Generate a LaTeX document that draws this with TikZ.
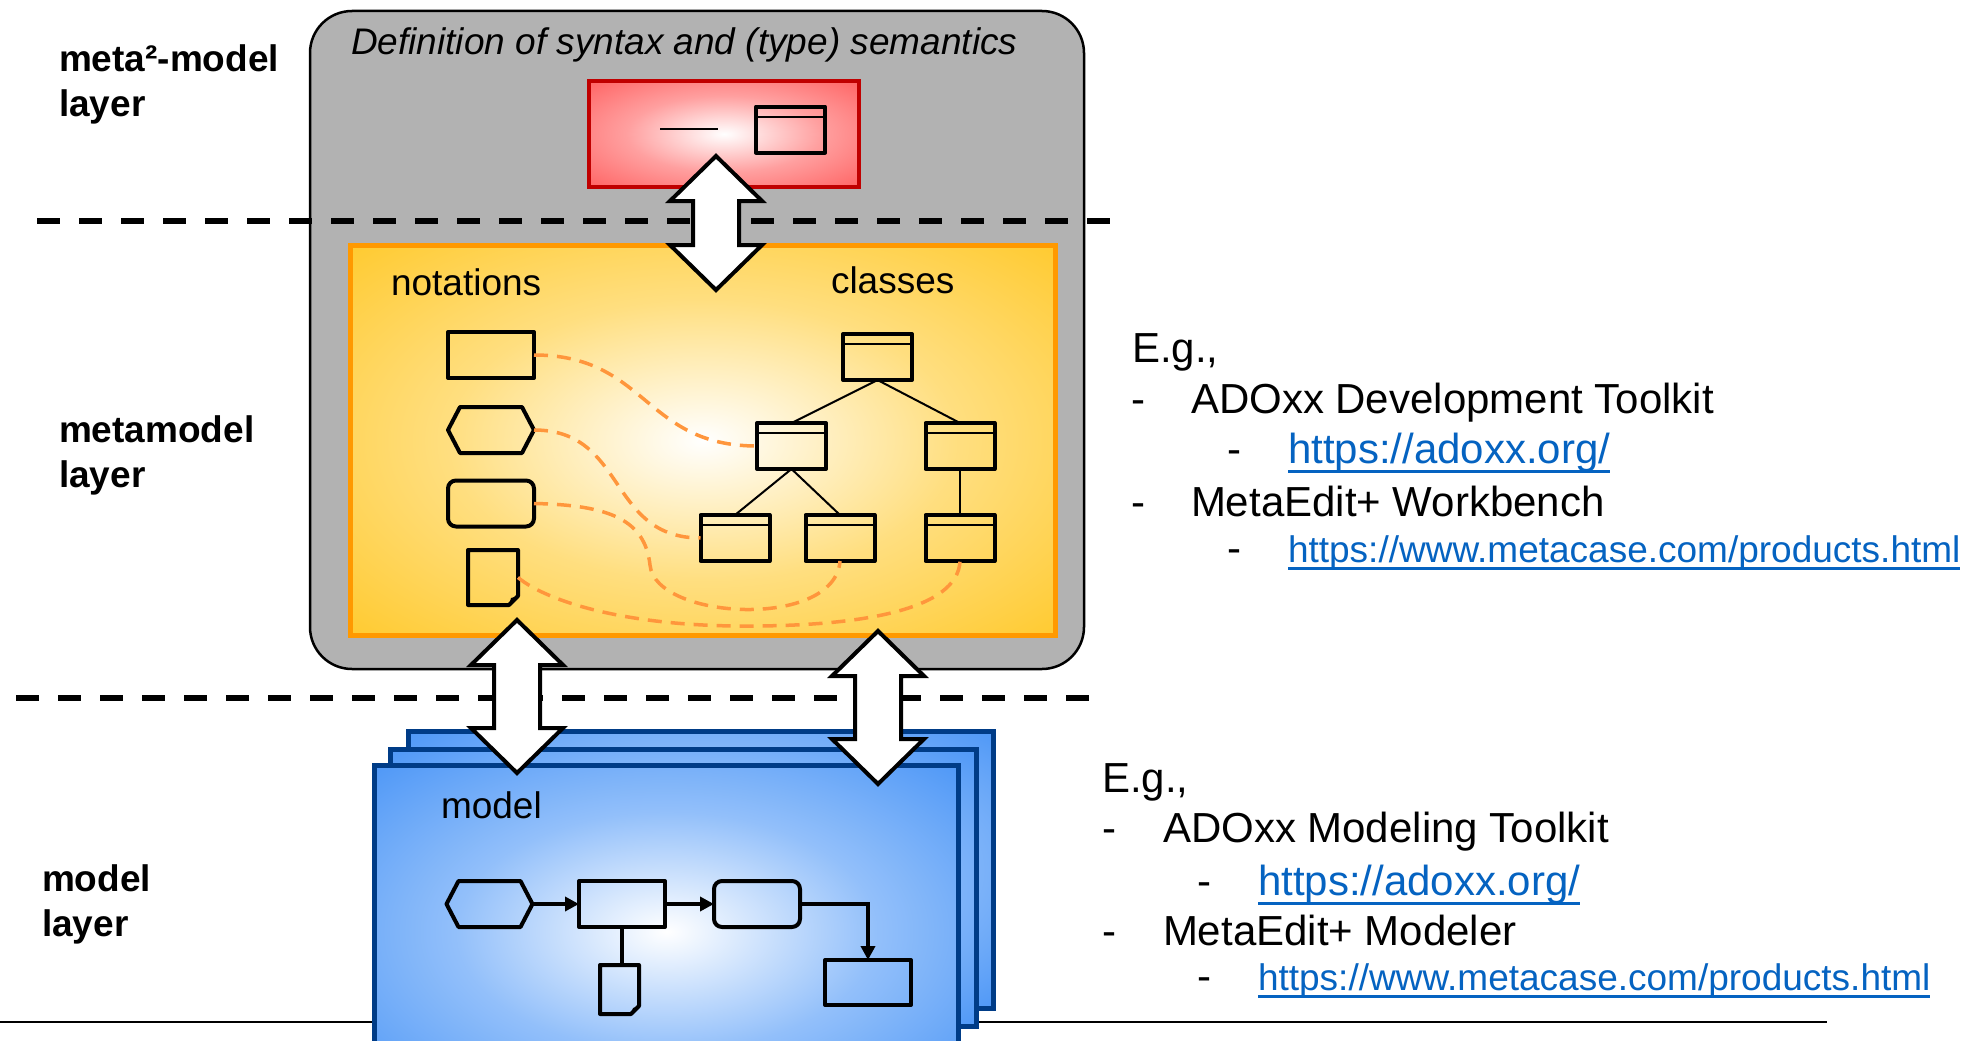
\documentclass[tikz,border=0pt]{standalone}
\usepackage{fontspec}
\setmainfont{Liberation Sans}
\usetikzlibrary{calc,arrows.meta}
\definecolor{grayfill}{RGB}{178,178,178}
\definecolor{redouter}{RGB}{255,64,64}
\definecolor{redborder}{RGB}{192,0,0}
\definecolor{orangeouter}{RGB}{255,190,0}
\definecolor{orangeborder}{RGB}{255,153,0}
\definecolor{blueouter}{RGB}{38,128,245}
\definecolor{blueborder}{RGB}{0,60,135}
\definecolor{dashorange}{RGB}{255,150,60}
\definecolor{linkblue}{RGB}{5,99,193}
\pgfdeclareradialshading{redrad}{\pgfpoint{0bp}{0bp}}{color(0bp)=(white); color(18bp)=(redouter!50!white); color(46bp)=(redouter); color(100bp)=(redouter)}
\pgfdeclareradialshading{orangerad}{\pgfpoint{0bp}{0bp}}{color(0bp)=(white); color(18bp)=(orangeouter!50!white); color(46bp)=(orangeouter); color(100bp)=(orangeouter)}
\pgfdeclareradialshading{bluerad}{\pgfpoint{0bp}{0bp}}{color(0bp)=(white); color(18bp)=(blueouter!50!white); color(46bp)=(blueouter); color(100bp)=(blueouter)}
\newsavebox{\ulbx}
\newcommand{\linkul}[3]{\sbox{\ulbx}{#3}\rlap{\rule[-#1]{\wd\ulbx}{#2}}\usebox{\ulbx}}
\newcommand{\dblarrow}[4]{%
  \coordinate (#1) at (#2,{(#3+#4)/2});
  \draw[dblarr] (#2,#3) -- ({#2+46},{#3+45}) -- ({#2+23},{#3+45}) -- ({#2+23},{#4-45}) -- ({#2+46},{#4-45}) -- (#2,#4) -- ({#2-46},{#4-45}) -- ({#2-23},{#4-45}) -- ({#2-23},{#3+45}) -- ({#2-46},{#3+45}) -- cycle;
}
\tikzset{
  lbl/.style={anchor=base west, inner sep=0pt, outer sep=0pt},
  layerlbl/.style={lbl, font=\bfseries\fontsize{37pt}{44pt}\selectfont},
  txtA/.style={lbl, font=\fontsize{37pt}{44pt}\selectfont},
  txtB/.style={lbl, font=\fontsize{42pt}{50pt}\selectfont},
  linkB/.style={txtB, text=linkblue},
  linkA/.style={txtA, text=linkblue},
  layerdash/.style={line width=6pt, dash pattern=on 23pt off 19pt},
  dblarr/.style={draw=black, fill=white, line width=4pt, line join=miter},
  shp/.style={draw=black, line width=4pt, line join=round},
  ghost/.style={minimum width=86pt, minimum height=46pt},
  nbox/.style={shp, minimum width=86pt, minimum height=46pt},
  cls/.style={shp, minimum width=69pt, minimum height=46pt},
  hdr/.style={line width=2pt},
  tree/.style={line width=2pt},
  odash/.style={draw=dashorange, line width=3.5pt, dash pattern=on 14pt off 9pt},
  bluebox/.style={draw=blueborder, line width=5pt, shade, shading=bluerad},
  mconn/.style={line width=4pt, -{Triangle[length=14pt,width=14pt]}},
}
\begin{document}
\begin{tikzpicture}[x=1pt,y=-1pt, every node/.style={inner sep=0pt,outer sep=0pt}]
\useasboundingbox (0,0) rectangle (1974,1041);
\clip (0,0) rectangle (1974,1041);
\fill[white] (0,0) rectangle (1974,1041);

% layer labels
\node[layerlbl] (l1) at (59,72) {meta²-model};
\node[layerlbl] (l2) at (59,116) {layer};
\node[layerlbl] (l3) at (59,442) {metamodel};
\node[layerlbl] (l4) at (59,487) {layer};
\node[layerlbl] (l5) at (42,891) {model};
\node[layerlbl] (l6) at (42,936) {layer};

% meta2-model container
\node[draw=black, line width=2.5pt, fill=grayfill, rounded corners=42pt, minimum width=774pt, minimum height=658pt] (gray) at (697,340) {};
\node[txtA, font=\itshape\fontsize{37pt}{44pt}\selectfont] (deftxt) at (351,55) {Definition of syntax and (type) semantics};

% dashed layer line 1
\coordinate (d1a) at (37,221);
\coordinate (d1b) at (1110,221);
\draw[layerdash] (d1a) -- (d1b);

% red meta2 box
\node[draw=redborder, line width=4pt, shade, shading=redrad, minimum width=270pt, minimum height=106pt] (red) at (724,134) {};
\coordinate (rl1) at (660,129);
\coordinate (rl2) at (718,129);
\draw[line width=2pt] (rl1) -- (rl2);
\node[cls] (rc) at (790.5,129.5) {};
\draw[hdr] ($(rc.north west)+(0,10)$) -- ($(rc.north east)+(0,10)$);

% orange metamodel box
\node[draw=orangeborder, line width=5pt, shade, shading=orangerad, minimum width=705pt, minimum height=390pt] (orange) at (703,440.5) {};
\node[txtA] (notl) at (391,295) {notations};
\node[txtA] (clsl) at (831,293) {classes};

% notation shapes
\node[nbox] (n1) at (491,355) {};
\node[ghost] (n2) at (491,430) {};
\draw[shp] (n2.west) -- ($(n2.north west)+(12,0)$) -- ($(n2.north east)+(-12,0)$) -- (n2.east) -- ($(n2.south east)+(-12,0)$) -- ($(n2.south west)+(12,0)$) -- cycle;
\node[nbox, rounded corners=8pt] (n3) at (491,503.5) {};
\node[minimum width=50pt, minimum height=55pt] (n4) at (493,577.5) {};
\draw[shp] (n4.north west) -- (n4.north east) -- ($(n4.south east)+(0,-9)$) -- ($(n4.south east)+(-9,0)$) -- (n4.south west) -- cycle;
\fill ($(n4.south east)+(0,-9)$) -- ($(n4.south east)+(-9,0)$) -- ($(n4.south east)+(-7,-7)$) -- cycle;

% class shapes
\node[cls] (c0) at (877.5,357) {};
\node[cls] (c1) at (791.5,446) {};
\node[cls] (c2) at (960,446) {};
\node[cls] (c3) at (735,538) {};
\node[cls] (c4) at (840,538) {};
\node[cls] (c5) at (960,538) {};
\foreach \c in {c0,c1,c2,c3,c4,c5}{
  \draw[hdr] ($(\c.north west)+(0,10)$) -- ($(\c.north east)+(0,10)$);
}
\draw[tree] (c0.south) -- (c1.north);
\draw[tree] (c0.south) -- (c2.north);
\draw[tree] (c1.south) -- (c3.north);
\draw[tree] (c1.south) -- (c4.north);
\draw[tree] (c2.south) -- (c5.north);

% notation-class mappings
\draw[odash] (n1.east) to[out=0,in=180,looseness=1.2] (c1.west);
\draw[odash] (n2.east) to[out=0,in=180,looseness=1.2] (c3.west);
\draw[odash] (n3.east) .. controls (610,505) and (645,520) .. (650,565) .. controls (655,620) and (835,630) .. (c4.south);
\draw[odash] (n4.east) .. controls (545,600) and (620,625) .. (737,626) .. controls (860,627) and (958,610) .. (c5.south);

% arrow meta2 <-> metamodel
\dblarrow{a1}{716}{156}{290}

% dashed layer line 2
\coordinate (d2a) at (16,698);
\coordinate (d2b) at (1090,698);
\draw[layerdash] (d2a) -- (d2b);

% bottom rule
\coordinate (bl1) at (0,1022);
\coordinate (bl2) at (1827,1022);
\draw[line width=2.5pt] (bl1) -- (bl2);

% stacked model boxes
\node[bluebox, minimum width=585pt, minimum height=277pt] (b3) at (701,870) {};
\node[bluebox, minimum width=586pt, minimum height=277pt] (b2) at (683.5,888) {};
\node[bluebox, minimum width=584pt, minimum height=332pt] (b1) at (666.5,931.5) {};
\node[txtA] (modl) at (441,818) {model};

% model content
\node[ghost] (m1) at (489.5,904) {};
\draw[shp] (m1.west) -- ($(m1.north west)+(12,0)$) -- ($(m1.north east)+(-12,0)$) -- (m1.east) -- ($(m1.south east)+(-12,0)$) -- ($(m1.south west)+(12,0)$) -- cycle;
\node[nbox] (m2) at (622,904) {};
\node[nbox, rounded corners=8pt] (m3) at (757,904) {};
\node[minimum width=39pt, minimum height=49pt] (m4) at (619.5,989.5) {};
\draw[shp] (m4.north west) -- (m4.north east) -- ($(m4.south east)+(0,-8)$) -- ($(m4.south east)+(-8,0)$) -- (m4.south west) -- cycle;
\fill ($(m4.south east)+(0,-8)$) -- ($(m4.south east)+(-8,0)$) -- ($(m4.south east)+(-6,-6)$) -- cycle;
\node[nbox, minimum height=45pt] (m5) at (868,982.5) {};
\draw[mconn] (m1.east) -- (m2.west);
\draw[mconn] (m2.east) -- (m3.west);
\draw[mconn] (m3.east) -| (m5.north);
\draw[line width=4pt] (m2.south) -- (m2.south |- m4.north);

% arrows metamodel <-> model
\dblarrow{a2}{517}{620}{773}
\dblarrow{a3}{878}{631}{784}

% examples, metamodel layer
\node[txtB] (e1) at (1132,362) {E.g.,};
\node[txtB] (e1d1) at (1131,413) {-};
\node[txtB] (e1t1) at (1191,413) {ADOxx Development Toolkit};
\node[txtB] (e1d2) at (1227,463) {-};
\node[linkB] (e1l1) at (1288,463) {\linkul{9.5pt}{3pt}{https://adoxx.org/}};
\node[txtB] (e1d3) at (1131,516) {-};
\node[txtB] (e1t2) at (1191,516) {MetaEdit+ Workbench};
\node[txtB] (e1d4) at (1227,562) {-};
\node[linkA] (e1l2) at (1288,562) {\linkul{7.5pt}{2.7pt}{https://www.metacase.com/products.html}};

% examples, model layer
\node[txtB] (e2) at (1102,792) {E.g.,};
\node[txtB] (e2d1) at (1102,842) {-};
\node[txtB] (e2t1) at (1163,842) {ADOxx Modeling Toolkit};
\node[txtB] (e2d2) at (1197,895) {-};
\node[linkB] (e2l1) at (1258,895) {\linkul{9.5pt}{3pt}{https://adoxx.org/}};
\node[txtB] (e2d3) at (1102,945) {-};
\node[txtB] (e2t2) at (1163,945) {MetaEdit+ Modeler};
\node[txtB] (e2d4) at (1197,990) {-};
\node[linkA] (e2l2) at (1258,990) {\linkul{7.5pt}{2.7pt}{https://www.metacase.com/products.html}};
\end{tikzpicture}
\end{document}
